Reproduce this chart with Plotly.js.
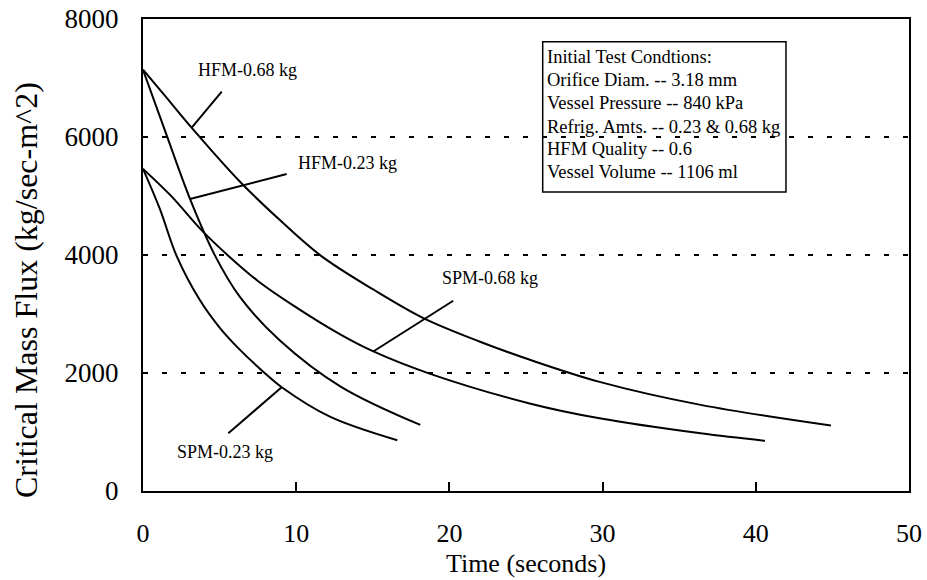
<!DOCTYPE html>
<html>
<head>
<meta charset="utf-8">
<script src="https://cdn.plot.ly/plotly-3.0.1.min.js"></script>
<style>
  html, body { margin: 0; padding: 0; background: #fff; }
  #chart { width: 927px; height: 580px; }
</style>
</head>
<body>
<div id="chart"></div>
<script>
// Critical mass flux during vessel blowdown, time in seconds
const hfm068Time = [0, 1.4, 3.2, 6.3, 8.9, 11.6, 15.0, 18.3, 22.0, 25.3, 29.8, 36.4, 44.9];
const hfm068Flux = [7140, 6710, 6150, 5250, 4600, 3990, 3420, 2930, 2530, 2220, 1850, 1460, 1110];

const hfm023Time = [0, 1.5, 3.1, 4.7, 6.3, 8.9, 12.9, 18.1];
const hfm023Flux = [7140, 6060, 4930, 3990, 3300, 2560, 1770, 1120];

const spm068Time = [0, 1.8, 3.9, 5.6, 7.5, 9.6, 12.9, 15.0, 18.7, 25.3, 29.8, 36.4, 40.6];
const spm068Flux = [5460, 5010, 4400, 3980, 3560, 3180, 2650, 2370, 1990, 1480, 1232, 977, 850];

const spm023Time = [0, 1.1, 2.2, 3.7, 5.0, 6.3, 7.9, 9.1, 12.2, 16.6];
const spm023Flux = [5460, 4780, 3980, 3240, 2770, 2400, 2010, 1750, 1260, 860];

const xTicks = [0, 10, 20, 30, 40, 50];
const yTicks = [0, 2000, 4000, 6000, 8000];

const conditionLines = [
  'Initial Test Condtions:',
  'Orifice Diam. -- 3.18 mm',
  'Vessel Pressure -- 840 kPa',
  'Refrig. Amts. -- 0.23 & 0.68 kg',
  'HFM Quality -- 0.6',
  'Vessel Volume -- 1106 ml'
];

const SERIF = '"Liberation Serif", "Times New Roman", Times, serif';
const INK = '#000';

function curve(t, g, name) {
  return {
    x: t, y: g, name: name, type: 'scatter', mode: 'lines',
    line: { color: INK, width: 2, shape: 'spline', smoothing: 1 },
    hoverinfo: 'skip'
  };
}

const traces = [
  curve(hfm068Time, hfm068Flux, 'HFM-0.68 kg'),
  curve(hfm023Time, hfm023Flux, 'HFM-0.23 kg'),
  curve(spm068Time, spm068Flux, 'SPM-0.68 kg'),
  curve(spm023Time, spm023Flux, 'SPM-0.23 kg')
];

// curve labels with their leader lines
const curveLabels = [
  { text: 'HFM-0.68 kg', x: 6.79, y: 7136, lead: [5.14, 6768, 3.18, 6160] },
  { text: 'HFM-0.23 kg', x: 13.35, y: 5559, lead: [9.38, 5373, 3.07, 4950] },
  { text: 'SPM-0.68 kg', x: 22.65, y: 3610, lead: [20.25, 3225, 15.03, 2365] },
  { text: 'SPM-0.23 kg', x: 5.32, y: 661, lead: [9.05, 1760, 5.57, 978] }
];

const annotations = [];
const shapes = [];

curveLabels.forEach(function (c) {
  annotations.push({
    x: c.x, y: c.y, xref: 'x', yref: 'y', text: c.text, showarrow: false,
    xanchor: 'center', yanchor: 'middle',
    font: { family: SERIF, size: 18, color: INK }
  });
  shapes.push({
    type: 'line', xref: 'x', yref: 'y',
    x0: c.lead[0], y0: c.lead[1], x1: c.lead[2], y1: c.lead[3],
    line: { color: INK, width: 2 }
  });
});

// test-conditions box
shapes.push({
  type: 'rect', xref: 'x', yref: 'y',
  x0: 26.09, x1: 41.97, y0: 5068, y1: 7615,
  line: { color: INK, width: 1.5 }, fillcolor: 'rgba(0,0,0,0)'
});
const lineY = [7356, 6958, 6568, 6178, 5797, 5407];
conditionLines.forEach(function (t, i) {
  annotations.push({
    x: 26.24, y: lineY[i], xref: 'x', yref: 'y', text: t, showarrow: false,
    xanchor: 'left', yanchor: 'middle',
    font: { family: SERIF, size: 18.5, color: INK }
  });
});

// vertical axis title
annotations.push({
  x: -0.1527, y: 0.4258, xref: 'paper', yref: 'paper',
  text: 'Critical Mass Flux (kg/sec-m^2)', textangle: -90, showarrow: false,
  xanchor: 'center', yanchor: 'middle',
  font: { family: SERIF, size: 32, color: INK }
});

const layout = {
  width: 927, height: 580,
  margin: { l: 143, r: 18, t: 19, b: 89 },
  paper_bgcolor: '#fff', plot_bgcolor: '#fff',
  showlegend: false,
  font: { family: SERIF, color: INK },
  xaxis: {
    range: [0, 50], tickvals: xTicks, ticktext: xTicks.map(String),
    ticks: 'inside', ticklen: 9, tickwidth: 2, tickcolor: INK,
    showline: true, linecolor: INK, linewidth: 2, mirror: true,
    showgrid: false, zeroline: false,
    ticklabelstandoff: 18,
    tickfont: { family: SERIF, size: 26, color: INK },
    title: { text: 'Time (seconds)', font: { family: SERIF, size: 26, color: INK }, standoff: 7 }
  },
  yaxis: {
    range: [0, 8000], tickvals: yTicks, ticktext: yTicks.map(String),
    ticks: '', showline: true, linecolor: INK, linewidth: 2, mirror: true,
    showgrid: true, gridcolor: INK, gridwidth: 2, griddash: '5px,14px',
    zeroline: false,
    ticklabelstandoff: 17,
    tickfont: { family: SERIF, size: 27, color: INK }
  },
  annotations: annotations,
  shapes: shapes
};

Plotly.newPlot('chart', traces, layout, { displayModeBar: false, staticPlot: true });
</script>
</body>
</html>
